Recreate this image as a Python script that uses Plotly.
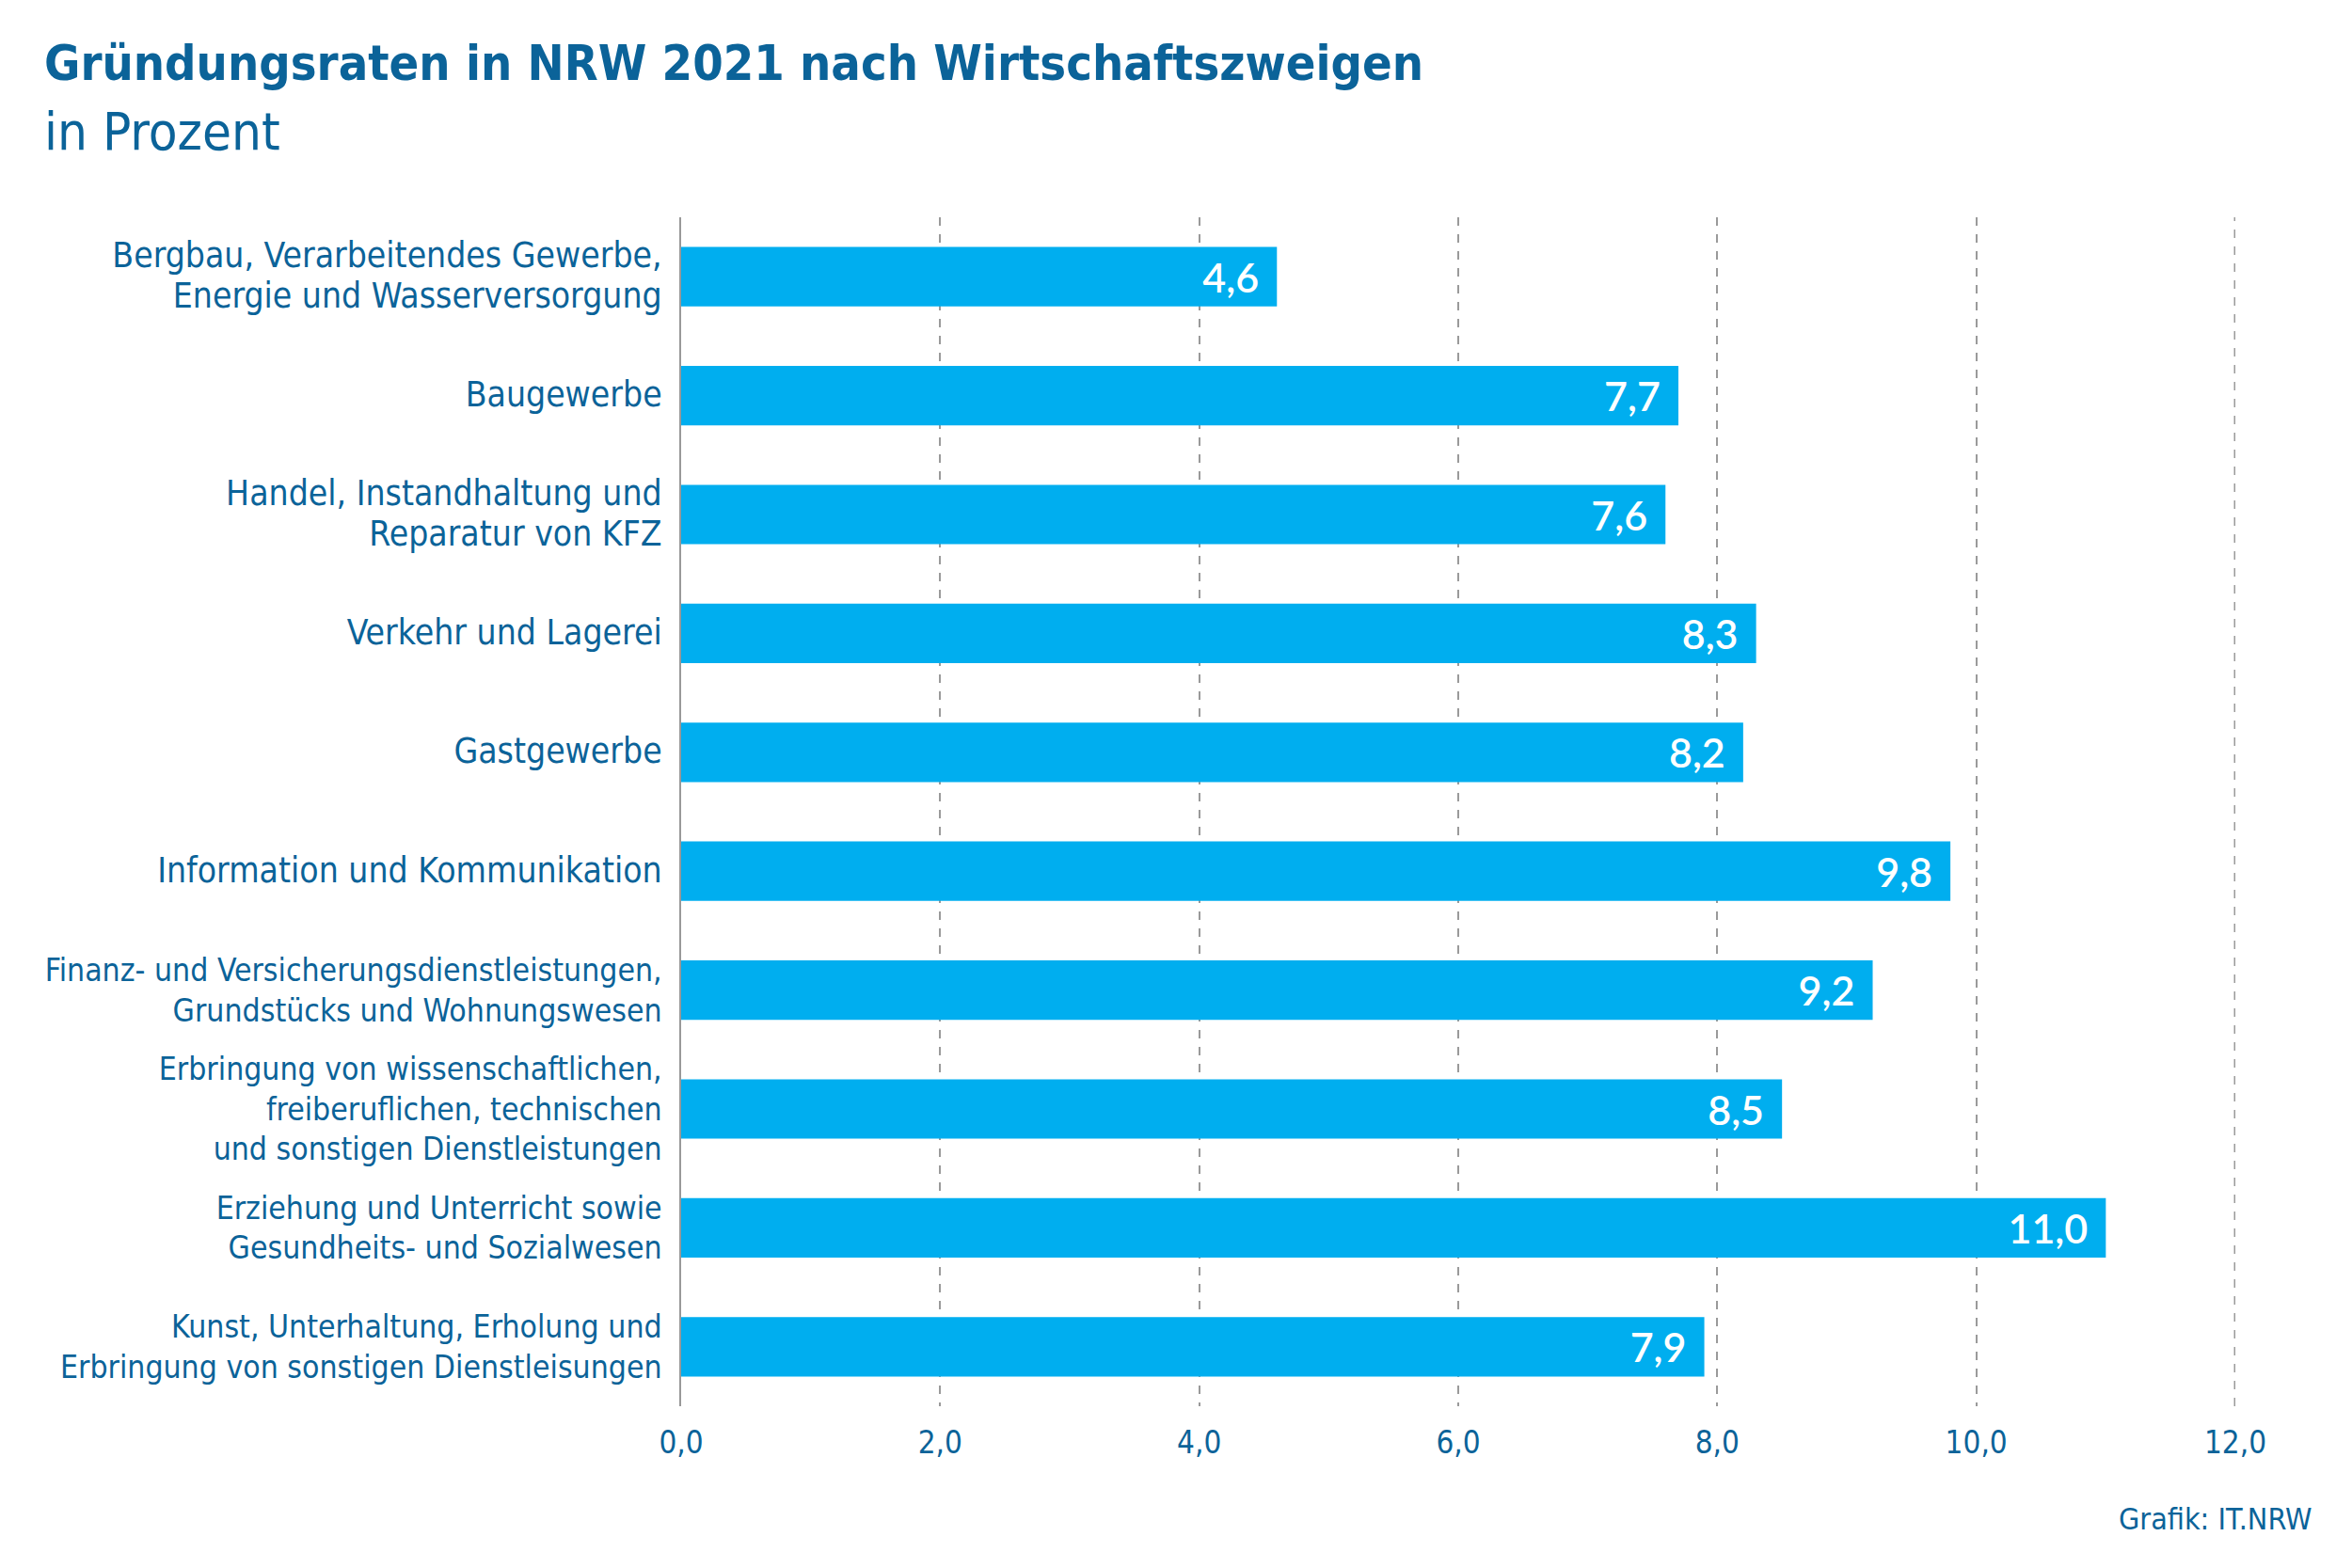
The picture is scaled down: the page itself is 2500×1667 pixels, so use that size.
import plotly.graph_objects as go

categories = [
    "Bergbau, Verarbeitendes Gewerbe,<br>Energie und Wasserversorgung",
    "Baugewerbe",
    "Handel, Instandhaltung und<br>Reparatur von KFZ",
    "Verkehr und Lagerei",
    "Gastgewerbe",
    "Information und Kommunikation",
    "Finanz- und Versicherungsdienstleistungen,<br>Grundstücks und Wohnungswesen",
    "Erbringung von wissenschaftlichen,<br>freiberuflichen, technischen<br>und sonstigen Dienstleistungen",
    "Erziehung und Unterricht sowie<br>Gesundheits- und Sozialwesen",
    "Kunst, Unterhaltung, Erholung und<br>Erbringung von sonstigen Dienstleisungen",
]
small_label = [False, False, False, False, False, False, True, True, True, True]
values = [4.6, 7.7, 7.6, 8.3, 8.2, 9.8, 9.2, 8.5, 11.0, 7.9]
x_ticks = [0, 2, 4, 6, 8, 10, 12]
x_max = 12

FONT = "'DejaVu Sans Condensed', 'Liberation Sans', sans-serif"
NUMFONT = "Lato, 'Open Sans', sans-serif"
TXT = "#0b6399"
BAR = "#00aeef"
GRID = "#9a9a9a"

W, H = 2500, 1667
L, R, T, B = 724, 124, 231, 172
pw, ph = W - L - R, H - T - B

def px(xp):
    return (xp - L) / pw

def py(yp):
    return (H - B - yp) / ph

pos = list(range(len(categories)))
ticktext = []
for c, s in zip(categories, small_label):
    size = 33.5 if s else 37
    ticktext.append(f"<span style='font-size:{size}px'>{c}</span>")

labels = [f"{v:.1f}".replace(".", ",") + "\u2009\u2009\u2009" for v in values]

fig = go.Figure(
    go.Bar(
        x=values,
        y=pos,
        orientation="h",
        marker=dict(color=BAR, line=dict(width=0)),
        width=0.5,
        text=labels,
        textposition="inside",
        insidetextanchor="end",
        textfont=dict(color="white", size=43, family=NUMFONT, weight=600),
        hovertemplate="%{x:.1f}<extra></extra>",
    )
)

fig.update_layout(
    width=W,
    height=H,
    margin=dict(l=L, r=R, t=T, b=B),
    paper_bgcolor="white",
    plot_bgcolor="white",
    separators=",.",
    showlegend=False,
    font=dict(family=FONT, color=TXT, size=33),
    xaxis=dict(
        range=[0, x_max],
        tickvals=x_ticks,
        tickformat=".1f",
        showgrid=True,
        gridcolor=GRID,
        gridwidth=1.5,
        griddash="dash",
        zeroline=False,
        showline=False,
        ticks="",
        ticklabelstandoff=16,
        tickfont=dict(size=33, color=TXT, family=FONT),
    ),
    yaxis=dict(
        range=[9.5, -0.5],
        tickvals=pos,
        ticktext=ticktext,
        showgrid=False,
        zeroline=False,
        showline=True,
        linecolor="#999999",
        linewidth=1.5,
        ticks="",
        ticklabelstandoff=12,
        tickfont=dict(size=33, color=TXT, family=FONT),
    ),
    shapes=[
        dict(type="line", xref="x", yref="paper", x0=x_max, x1=x_max, y0=0, y1=1,
             line=dict(color=GRID, width=3, dash="dash"), layer="below"),
    ],
    annotations=[
        dict(text="<b>Gründungsraten in NRW 2021 nach Wirtschaftszweigen</b>",
             x=px(45), y=py(67), xref="paper", yref="paper",
             xanchor="left", yanchor="middle", showarrow=False,
             font=dict(size=52, color="#0b6399", family=FONT)),
        dict(text="in Prozent",
             x=px(45), y=py(140), xref="paper", yref="paper",
             xanchor="left", yanchor="middle", showarrow=False,
             font=dict(size=56, color="#0b6399", family=FONT)),
        dict(text="Grafik: IT.NRW",
             x=px(2460), y=py(1615), xref="paper", yref="paper",
             xanchor="right", yanchor="middle", showarrow=False,
             font=dict(size=32, color=TXT, family=FONT)),
    ],
)

fig.write_html("out.html")
